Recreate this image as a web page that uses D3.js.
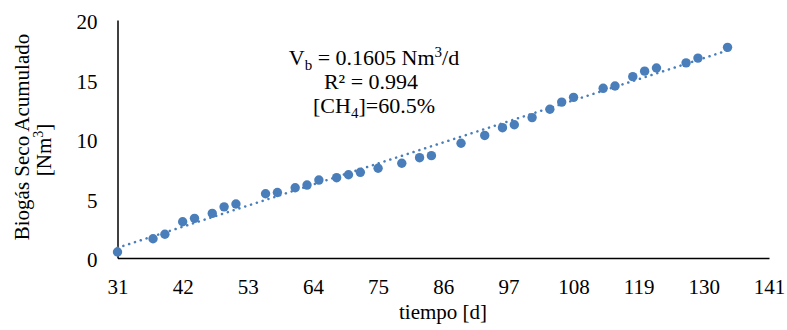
<!DOCTYPE html>
<html>
<head>
<meta charset="utf-8">
<script src="https://cdn.jsdelivr.net/npm/d3@7"></script>
<style>
  html, body { margin: 0; padding: 0; background: #fff; }
  svg text { font-family: "Liberation Serif", "Times New Roman", serif; fill: #000; }
</style>
</head>
<body>
<div id="chart"></div>
<script>
// days since start
const days = [31, 37, 39, 42, 44, 47, 49, 51, 56, 58, 61, 63, 65, 68, 70, 72, 75, 79, 82, 84,
  89, 93, 96, 98, 101, 104, 106, 108, 113, 115, 118, 120, 122, 127, 129, 134];
// accumulated dry biogas [Nm3]
const biogas = [0.5, 1.62, 2.0, 3.05, 3.33, 3.75, 4.3, 4.54, 5.4, 5.5, 5.9, 6.13, 6.55, 6.75, 7.0, 7.2, 7.54, 7.96, 8.43, 8.6,
  9.64, 10.3, 10.95, 11.2, 11.8, 12.5, 13.1, 13.5, 14.26, 14.45, 15.24, 15.7, 15.97, 16.4, 16.8, 17.7];
const xTicks = [31, 42, 53, 64, 75, 86, 97, 108, 119, 130, 141];
const yTicks = [0, 5, 10, 15, 20];

const W = 787, H = 330;
const margin = { left: 117.5, right: 18, top: 20, bottom: 72 };
const COLOR = '#4a7ebb';
const FONT = 'Liberation Serif';

const points = days.map((d, i) => ({ x: d, y: biogas[i] }));

// least squares trend line
const mx = d3.mean(days), my = d3.mean(biogas);
const slope = d3.sum(points, p => (p.x - mx) * (p.y - my)) / d3.sum(points, p => (p.x - mx) ** 2);
const icpt = my - slope * mx;

const svg = d3.select('#chart').append('svg')
  .attr('width', W)
  .attr('height', H);

const x = d3.scaleLinear().domain([31, 141]).range([margin.left, W - margin.right]);
const y = d3.scaleLinear().domain([0, 20]).range([H - margin.bottom, margin.top]);

// axes
const xAxis = d3.axisBottom(x).tickValues(xTicks).tickSize(0).tickPadding(21);
const yAxis = d3.axisLeft(y).tickValues(yTicks).tickSize(0).tickPadding(20);

svg.append('g')
  .attr('transform', `translate(0,${y(0)})`)
  .call(xAxis)
  .call(g => g.select('.domain').attr('stroke', '#000').attr('stroke-width', 1.5))
  .call(g => g.selectAll('text').attr('font-size', 21).attr('font-family', FONT));

svg.append('g')
  .attr('transform', `translate(${x(31)},2)`)
  .call(yAxis)
  .call(g => g.select('.domain').attr('transform', 'translate(0,-2)').attr('stroke', '#000').attr('stroke-width', 1.5))
  .call(g => g.selectAll('text').attr('font-size', 21).attr('font-family', FONT));

// trend line
const xMin = d3.min(days), xMax = d3.max(days);
svg.append('line')
  .attr('x1', x(xMin)).attr('y1', y(icpt + slope * xMin))
  .attr('x2', x(xMax)).attr('y2', y(icpt + slope * xMax))
  .attr('stroke', COLOR)
  .attr('stroke-width', 2.5)
  .attr('stroke-linecap', 'round')
  .attr('stroke-dasharray', '0.1 6');

// points
svg.append('g').selectAll('circle')
  .data(points)
  .enter()
  .append('circle')
  .attr('cx', d => x(d.x))
  .attr('cy', d => y(d.y))
  .attr('r', 4.7)
  .attr('fill', COLOR);

// annotation
const ann = svg.append('g').attr('font-size', 22).attr('text-anchor', 'middle');
const t1 = ann.append('text').attr('x', 374).attr('y', 65);
t1.append('tspan').text('V');
t1.append('tspan').attr('font-size', 15).attr('dy', 5).text('b');
t1.append('tspan').attr('dy', -5).text(' = 0.1605 Nm');
t1.append('tspan').attr('font-size', 15).attr('dy', -8).text('3');
t1.append('tspan').attr('dy', 8).text('/d');
ann.append('text').attr('x', 371).attr('y', 89).text('R² = 0.994');
const t3 = ann.append('text').attr('x', 374).attr('y', 113);
t3.append('tspan').text('[CH');
t3.append('tspan').attr('font-size', 15).attr('dy', 5).text('4');
t3.append('tspan').attr('dy', -5).text(']=60.5%');

// axis titles
svg.append('text')
  .attr('x', 443).attr('y', 319)
  .attr('text-anchor', 'middle')
  .attr('font-size', 21)
  .text('tiempo [d]');

const yl = svg.append('g')
  .attr('transform', 'translate(0,140) rotate(-90)')
  .attr('text-anchor', 'middle')
  .attr('font-size', 21);
yl.append('text').attr('x', 3).attr('y', 29).text('Biogás Seco Acumulado');
const yl2 = yl.append('text').attr('x', -10).attr('y', 51);
yl2.append('tspan').text('[Nm');
yl2.append('tspan').attr('font-size', 14).attr('dy', -8).text('3');
yl2.append('tspan').attr('dy', 8).text(']');
</script>
</body>
</html>
